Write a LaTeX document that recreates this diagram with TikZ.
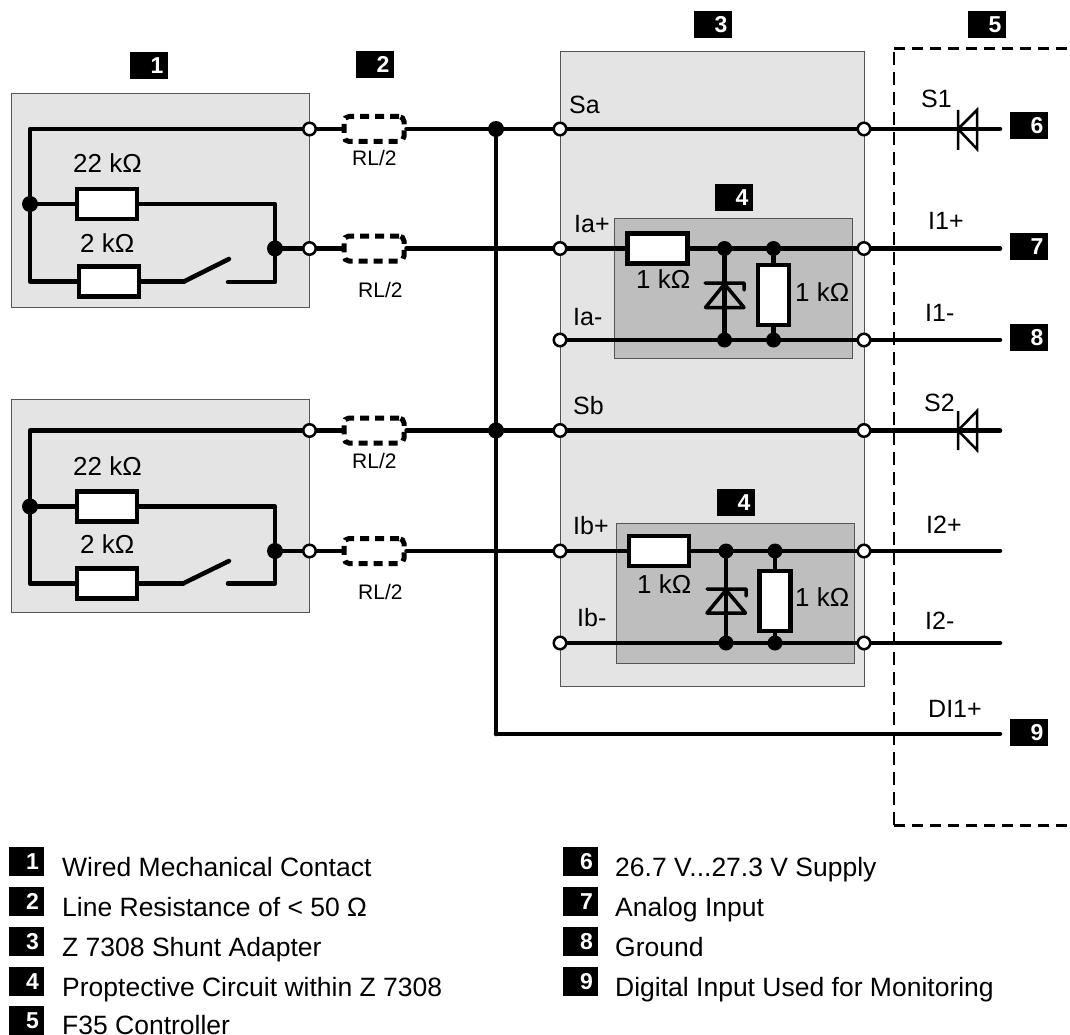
\documentclass[tikz,border=0pt]{standalone}
\usepackage{fontspec}
\setmainfont{Liberation Sans}
\usepackage{tikz}
\usetikzlibrary{arrows.meta}
\usetikzlibrary{positioning}

\definecolor{boxgrey}{HTML}{E4E4E4}
\definecolor{innergrey}{HTML}{BEBEBE}
\definecolor{edgegrey}{HTML}{555555}

\tikzset{
	wire/.style={draw=black, line width=4.5pt, line join=round, line cap=round},
	outerbox/.style={draw=edgegrey, fill=boxgrey, line width=1pt},
	innerbox/.style={draw=edgegrey, fill=innergrey, line width=1pt},
	res/.style={rectangle, draw=black, fill=white, line width=4.5pt, inner sep=0pt, minimum width=60pt, minimum height=30pt},
	resv/.style={res, minimum width=31pt, minimum height=60pt},
	term/.style={circle, draw=black, fill=white, line width=2.5pt, inner sep=0pt, minimum size=12.5pt},
	junc/.style={circle, fill=black, inner sep=0pt, minimum size=16pt},
	rline/.style={rectangle, rounded corners=5pt, draw=black, line width=5pt, dash pattern=on 9pt off 6pt, inner sep=0pt, minimum width=60pt, minimum height=25pt},
	lab/.style={anchor=base west, inner sep=0pt, font=\fontsize{25}{25}\selectfont},
	rlab/.style={anchor=base west, inner sep=0pt, font=\fontsize{21}{21}\selectfont},
	ohm/.style={anchor=base west, inner sep=0pt, font=\fontsize{26}{26}\selectfont},
	legend/.style={anchor=base west, inner sep=0pt, font=\fontsize{26.5}{26.5}\selectfont},
	badge/.style={rectangle, fill=black, text=white, inner sep=0pt, minimum width=38pt, minimum height=27pt, text width=29pt, align=right, text height=16pt, text depth=0pt, font=\fontsize{23}{23}\selectfont\bfseries},
	keybadge/.style={badge, minimum width=35pt, minimum height=29pt, text width=25pt},
	diode/.style={draw=black, line width=2.5pt},
	zener/.style={draw=black, line width=3.5pt, line join=round, line cap=round}
}

\begin{document}
\begin{tikzpicture}[x=1pt, y=-1pt]
	\useasboundingbox (0,0) rectangle (1070,1035);

	% boxes
	\fill[outerbox] (11.5,94) rectangle (309.5,307);
	\fill[outerbox] (11.5,399) rectangle (309.5,612);
	\fill[outerbox] (560,52) rectangle (864,686);
	\fill[innerbox] (614.5,218) rectangle (852.5,358);
	\fill[innerbox] (616,523) rectangle (854,663);
	\draw[draw=black, line width=2.5pt, dash pattern=on 13pt off 7pt] (894,825) -- (894,49);
	\draw[draw=black, line width=3pt, dash pattern=on 11pt off 7pt] (894,49) -- (1070,49);
	\draw[draw=black, line width=3pt, dash pattern=on 11pt off 7pt] (894,825) -- (1070,825);

	% contact one
	\begin{scope}
		\node[term] (tA1) at (309.5,129) {};
		\node[term] (tA2) at (309.5,248.5) {};
		\node[junc] (jA1) at (30,204) {};
		\node[junc] (jA2) at (275,248.5) {};
		\node[res] (rA1) at (107,204) {};
		\node[res] (rA2) at (109,281.5) {};
		\node[rline] (lA1) at (374,129) {};
		\node[rline] (lA2) at (374,248.5) {};
		\coordinate (swA1) at (184,281.5);
		\coordinate (swA2) at (229,259);
		\coordinate (swA3) at (228,282);
	\end{scope}

	% contact two
	\begin{scope}
		\node[term] (tB1) at (309.5,430.5) {};
		\node[term] (tB2) at (309.5,551) {};
		\node[junc] (jB1) at (30,506.5) {};
		\node[junc] (jB2) at (275,551) {};
		\node[res] (rB1) at (107,506.5) {};
		\node[res] (rB2) at (107,583.5) {};
		\node[rline] (lB1) at (374,430.5) {};
		\node[rline] (lB2) at (374,551) {};
		\coordinate (swB1) at (183,583.5);
		\coordinate (swB2) at (229,561);
		\coordinate (swB3) at (228,583.5);
	\end{scope}

	% adapter
	\begin{scope}
		\node[junc] (busA) at (496,129) {};
		\node[junc] (busB) at (496,430.5) {};
		\coordinate (busC) at (496,734);
		\node[term] (sa) at (560,129) {};
		\node[term] (sa') at (864,129) {};
		\node[term] (iap) at (560,248.5) {};
		\node[term] (iap') at (864,248.5) {};
		\node[term] (iam) at (560,340) {};
		\node[term] (iam') at (864,340) {};
		\node[term] (sb) at (560,430.5) {};
		\node[term] (sb') at (864,430.5) {};
		\node[term] (ibp) at (560,551) {};
		\node[term] (ibp') at (864,551) {};
		\node[term] (ibm) at (560,643) {};
		\node[term] (ibm') at (864,643) {};
		\node[res] (rC1) at (657.5,248.5) {};
		\node[resv] (rC2) at (773.5,295) {};
		\node[junc, minimum size=15pt] (jC1) at (724.5,248.5) {};
		\node[junc, minimum size=15pt] (jC2) at (773.5,248.5) {};
		\node[junc, minimum size=15pt] (jC3) at (724.5,340) {};
		\node[junc, minimum size=15pt] (jC4) at (773.5,340) {};
		\node[res] (rD1) at (659,551) {};
		\node[resv] (rD2) at (775,601) {};
		\node[junc, minimum size=15pt] (jD1) at (726,551) {};
		\node[junc, minimum size=15pt] (jD2) at (775,551) {};
		\node[junc, minimum size=15pt] (jD3) at (726,643) {};
		\node[junc, minimum size=15pt] (jD4) at (775,643) {};
		\coordinate (outS1) at (1000,129);
		\coordinate (outI1p) at (1000,248.5);
		\coordinate (outI1m) at (1000,340);
		\coordinate (outS2) at (1000,430.5);
		\coordinate (outI2p) at (1000,551);
		\coordinate (outI2m) at (1000,643);
		\coordinate (outD) at (1000,734);
	\end{scope}

	\begin{scope}[every edge/.style={wire}]
		\path (tA1) edge (lA1);
		\path (tA2) edge (lA2);
		\path (tB1) edge (lB1);
		\path (tB2) edge (lB2);
		\path (lA1) edge (busA);
		\path (busA) edge (sa);
		\path (lB1) edge (busB);
		\path (busB) edge (sb);
		\path (lA2) edge (iap);
		\path (lB2) edge (ibp);
		\path (jA2) edge (tA2);
		\path (jB2) edge (tB2);
		\path (jA1) edge (rA1);
		\path (jB1) edge (rB1);
		\path (rA2) edge (swA1);
		\path (swA1) edge (swA2);
		\path (rB2) edge (swB1);
		\path (swB1) edge (swB2);
		\path (sa) edge (sa');
		\path (sb) edge (sb');
		\path (iap) edge (rC1);
		\path (rC1) edge (jC1);
		\path (jC1) edge (jC2);
		\path (jC2) edge (iap');
		\path (iam) edge (jC3);
		\path (jC3) edge (jC4);
		\path (jC4) edge (iam');
		\path (jC1) edge (jC3);
		\path (jC2) edge (rC2);
		\path (rC2) edge (jC4);
		\path (ibp) edge (rD1);
		\path (rD1) edge (jD1);
		\path (jD1) edge (jD2);
		\path (jD2) edge (ibp');
		\path (ibm) edge (jD3);
		\path (jD3) edge (jD4);
		\path (jD4) edge (ibm');
		\path (jD1) edge (jD3);
		\path (jD2) edge (rD2);
		\path (rD2) edge (jD4);
		\path (sa') edge (outS1);
		\path (iap') edge (outI1p);
		\path (iam') edge (outI1m);
		\path (sb') edge (outS2);
		\path (ibp') edge (outI2p);
		\path (ibm') edge (outI2m);
		\path (busA) edge (busB);
		\path (busB) edge (busC);
		\path (busC) edge (outD);
	\end{scope}
	\draw[wire] (tA1) -| (jA1);
	\draw[wire] (jA1) |- (rA2);
	\draw[wire] (rA1) -| (jA2);
	\draw[wire] (swA3) -| (jA2);
	\draw[wire] (tB1) -| (jB1);
	\draw[wire] (jB1) |- (rB2);
	\draw[wire] (rB1) -| (jB2);
	\draw[wire] (swB3) -| (jB2);

	% diodes
	\draw[diode] (958,110) -- (958,150) (977,110) -- (958,129) -- (977,149) -- cycle;
	\draw[diode] (958,411) -- (958,450) (977,411) -- (958,430.5) -- (977,450) -- cycle;
	\draw[zener] (705,283) -- (744,283) -- (744,290) (705.5,307.5) -- (744,307.5) -- (724.5,284) -- cycle;
	\draw[zener] (707,589) -- (746,589) -- (746,596) (707,613) -- (745.5,613) -- (726,590) -- cycle;

	% labels
	\node[ohm] (t1) at (73,173) {22 kΩ};
	\node[ohm] (t2) at (80,252) {2 kΩ};
	\node[ohm] (t3) at (73,475) {22 kΩ};
	\node[ohm] (t4) at (80,553) {2 kΩ};
	\node[rlab] (t5) at (352,166) {RL/2};
	\node[rlab] (t6) at (358,297) {RL/2};
	\node[rlab] (t7) at (352,468) {RL/2};
	\node[rlab] (t8) at (358,599) {RL/2};
	\node[lab] (t9) at (569,114) {Sa};
	\node[lab] (t10) at (574,232) {Ia+};
	\node[lab] (t11) at (573,325) {Ia-};
	\node[lab] (t12) at (573,414) {Sb};
	\node[lab] (t13) at (573,534) {Ib+};
	\node[lab] (t14) at (577,626) {Ib-};
	\node[lab] (t15) at (921,108) {S1};
	\node[lab] (t16) at (928,229) {I1+};
	\node[lab] (t17) at (925,321) {I1-};
	\node[lab] (t18) at (924,411) {S2};
	\node[lab] (t19) at (926,533) {I2+};
	\node[lab] (t20) at (925,629) {I2-};
	\node[lab] (t21) at (928,717) {DI1+};
	\node[ohm] (t22) at (636,288) {1 kΩ};
	\node[ohm] (t23) at (795,301) {1 kΩ};
	\node[ohm] (t24) at (637,593) {1 kΩ};
	\node[ohm] (t25) at (795,606) {1 kΩ};

	% numbers
	\node[badge] (b1) at (149,65.5) {1};
	\node[badge] (b2) at (375,64.5) {2};
	\node[badge] (b3) at (713,24.5) {3};
	\node[badge] (b4) at (734,197.5) {4};
	\node[badge] (b4') at (736,502.5) {4};
	\node[badge] (b5) at (987,24.5) {5};
	\node[badge] (b6) at (1029,125.5) {6};
	\node[badge] (b7) at (1029,246.5) {7};
	\node[badge] (b8) at (1029,337.5) {8};
	\node[badge] (b9) at (1029,732.5) {9};

	% key
	\node[keybadge] (k1) at (26.5,861.5) {1};
	\node[keybadge] (k2) at (26.5,901.5) {2};
	\node[keybadge] (k3) at (26.5,941.5) {3};
	\node[keybadge] (k4) at (26.5,981.5) {4};
	\node[keybadge] (k5) at (26.5,1020.5) {5};
	\node[keybadge] (k6) at (580.5,861.5) {6};
	\node[keybadge] (k7) at (580.5,901.5) {7};
	\node[keybadge] (k8) at (580.5,941.5) {8};
	\node[keybadge] (k9) at (580.5,981.5) {9};
	\node[legend] (n1) at (62,876) {Wired Mechanical Contact};
	\node[legend] (n2) at (62,916) {Line Resistance of < 50 Ω};
	\node[legend] (n3) at (62,956) {Z 7308 Shunt Adapter};
	\node[legend] (n4) at (62,996) {Proptective Circuit within Z 7308};
	\node[legend] (n5) at (62,1034) {F35 Controller};
	\node[legend] (n6) at (615,876) {26.7 V...27.3 V Supply};
	\node[legend] (n7) at (615,916) {Analog Input};
	\node[legend] (n8) at (615,956) {Ground};
	\node[legend] (n9) at (615,996) {Digital Input Used for Monitoring};
\end{tikzpicture}
\end{document}
